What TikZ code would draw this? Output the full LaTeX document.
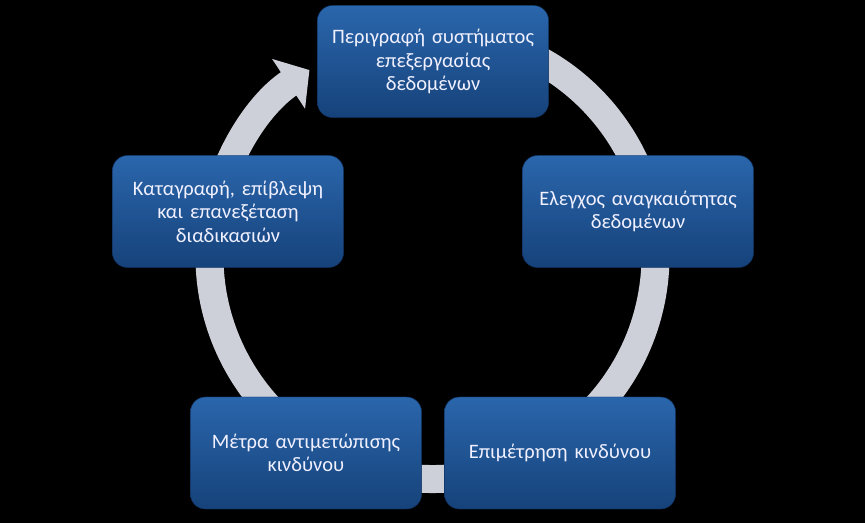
\documentclass[tikz,border=0pt]{standalone}
\usepackage{fontspec}
\setmainfont{Carlito}
\usetikzlibrary{arrows.meta,calc}
\definecolor{boxtop}{RGB}{42,102,172}
\definecolor{boxmid}{RGB}{30,86,152}
\definecolor{boxbot}{RGB}{22,66,122}
\definecolor{boxedge}{RGB}{16,48,92}
\definecolor{ringgray}{RGB}{205,208,216}

\begin{document}
\begin{tikzpicture}[
    x=0.03cm, y=0.03cm,
    stage/.style={rectangle, rounded corners=0.45cm, minimum width=6.87cm, minimum height=3.36cm, text width=6.7cm, align=center, draw=boxedge, top color=boxtop, middle color=boxmid, bottom color=boxbot, text=white!94!blue, font=\fontsize{17.5}{20}\selectfont},
    ring/.style={draw=ringgray, line width=0.84cm, -{Triangle[width=1.75cm, length=0.75cm]}}
]

% Background
\fill[black] (0,0) rectangle (865,523);
\useasboundingbox (0,0) rectangle (865,523);

% Ring
\coordinate (c) at (432.5,267);
\draw[ring] ($(c)+(80:223)$) arc[start angle=80, end angle=-236.5, radius=223];

% Stages
\node (descr) [stage] at (433,461.5) {Περιγραφή συστήματος\\επεξεργασίας\\δεδομένων};
\node (need) [stage] at (638,311.5) {Ελεγχος αναγκαιότητας\\δεδομένων};
\node (assess) [stage] at (560,70) {Επιμέτρηση κινδύνου};
\node (measures) [stage] at (306,70) {Μέτρα αντιμετώπισης\\κινδύνου};
\node (review) [stage] at (228,311.5) {Καταγραφή, επίβλεψη\\και επανεξέταση\\διαδικασιών};

\end{tikzpicture}
\end{document}
